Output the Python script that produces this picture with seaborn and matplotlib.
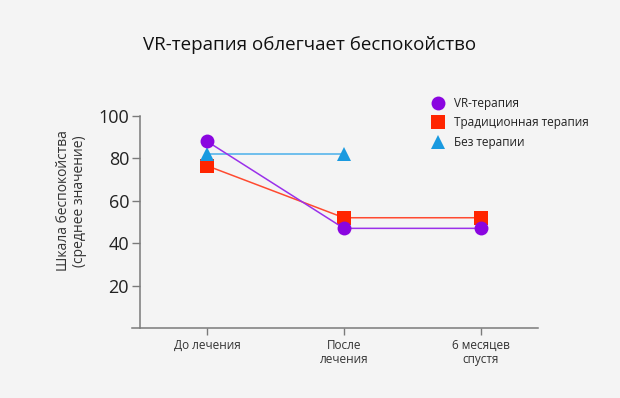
import matplotlib
matplotlib.use("Agg")
import matplotlib.pyplot as plt
from matplotlib.lines import Line2D
import numpy as np
import pandas as pd
import seaborn as sns

categories = ["До лечения", "После\nлечения", "6 месяцев\nспустя"]
vr_values = [88, 47, 47]
traditional_values = [76.5, 52, 52]
no_therapy_values = [82, 82, np.nan]

series_names = ["VR-терапия", "Традиционная терапия", "Без терапии"]
series_values = [vr_values, traditional_values, no_therapy_values]
colors = {"VR-терапия": "#8a05e0", "Традиционная терапия": "#ff2500", "Без терапии": "#1a9ae0"}
line_colors = {"VR-терапия": "#9a30ea", "Традиционная терапия": "#ff4a30", "Без терапии": "#4ab0ea"}
markers = {"VR-терапия": "o", "Традиционная терапия": "s", "Без терапии": "^"}

bg = "#f4f4f4"
sns.set_style("white")
plt.rcParams["font.family"] = ["Open Sans", "DejaVu Sans"]
plt.rcParams["text.color"] = "#222222"

fig = plt.figure(figsize=(6.2, 3.98), dpi=100, facecolor=bg)
ax = fig.add_axes([0.2129, 0.1759, 0.6548, 0.5327], facecolor=bg)

for name in ["Традиционная терапия", "Без терапии", "VR-терапия"]:
    vals = series_values[series_names.index(name)]
    df = pd.DataFrame({"x": np.arange(len(categories)), "y": vals}).dropna()
    sns.lineplot(data=df, x="x", y="y", ax=ax, color=line_colors[name], linewidth=1.1,
                 marker=markers[name], markersize=10,
                 markerfacecolor=colors[name], markeredgecolor=colors[name], markeredgewidth=0)

ax.set_xlim(-0.55, 2.42)
ax.set_ylim(0, 100)
ax.spines["left"].set_position(("data", -0.49))
ax.spines["top"].set_visible(False)
ax.spines["right"].set_visible(False)
for s in ["left", "bottom"]:
    ax.spines[s].set_color("#7a7a7a")
    ax.spines[s].set_linewidth(1.1)

ax.set_xticks(np.arange(len(categories)))
ax.set_xticklabels(categories, fontsize=8.5, color="#333333", linespacing=1.1)
ax.set_yticks([20, 40, 60, 80, 100])
ax.set_yticklabels(["20", "40", "60", "80", "100"], fontsize=13, color="#222222")
ax.tick_params(axis="y", direction="out", length=6, width=1, color="#7a7a7a", pad=2, left=True)
ax.tick_params(axis="x", direction="out", length=5, width=1, color="#7a7a7a", pad=3, bottom=True)
ax.set_xlabel("")
ax.set_ylabel("Шкала беспокойства\n(среднее значение)", fontsize=10, color="#333333", linespacing=1.15)
ax.yaxis.set_label_coords(-0.11, 0.6)

fig.text(0.5, 0.888, "VR-терапия облегчает беспокойство", ha="center", va="center", fontsize=13.5, color="#111111")

handles = [Line2D([], [], linestyle="none", marker=markers[n], markersize=10,
                  markerfacecolor=colors[n], markeredgewidth=0) for n in series_names]
fig.legend(handles, series_names, loc="upper left", bbox_to_anchor=(0.685, 0.772), frameon=False,
           fontsize=8.5, handletextpad=0.8, labelspacing=0.55, borderpad=0, handlelength=1.2)

fig.savefig("out.png", dpi=100, facecolor=bg)
